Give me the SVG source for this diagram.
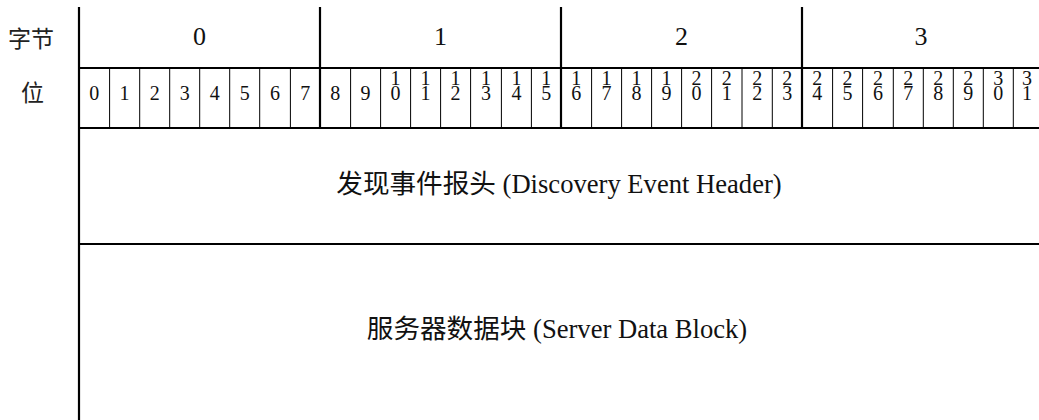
<svg xmlns="http://www.w3.org/2000/svg" width="1039" height="420" viewBox="0 0 1039 420">
  <style>
    .thick { stroke: #000; stroke-width: 2.2; fill: none; }
    .thin { stroke: #000; stroke-width: 1; fill: none; }
    .lbl { font-family: "Liberation Serif", "Noto Sans CJK SC", serif; fill: #111; }
    .cjk { font-family: "Noto Sans CJK SC", sans-serif; font-size: 23px; fill: #222; }
    .byte { font-size: 26px; text-anchor: middle; }
    .bit { font-size: 20px; text-anchor: middle; }
    .field { font-size: 26.6px; text-anchor: middle; }
  </style>

  <!-- row captions -->
  <g id="captions">
    <text class="cjk" x="8" y="47">字节</text>
    <text class="cjk" x="21" y="101">位</text>
  </g>

  <!-- grid lines -->
  <g id="grid">
    <line class="thick" x1="79" y1="7" x2="79" y2="420"/>
    <line class="thick" x1="320" y1="7" x2="320" y2="128"/>
    <line class="thick" x1="561" y1="7" x2="561" y2="128"/>
    <line class="thick" x1="802" y1="7" x2="802" y2="128"/>
    <line class="thick" x1="79" y1="68" x2="1039" y2="68"/>
    <line class="thick" x1="79" y1="128" x2="1039" y2="128"/>
    <line class="thick" x1="79" y1="244" x2="1039" y2="244"/>
    <!-- bit separators -->
    <g class="thin">
      <line x1="109.6" y1="68" x2="109.6" y2="128"/>
      <line x1="139.7" y1="68" x2="139.7" y2="128"/>
      <line x1="169.7" y1="68" x2="169.7" y2="128"/>
      <line x1="199.7" y1="68" x2="199.7" y2="128"/>
      <line x1="229.7" y1="68" x2="229.7" y2="128"/>
      <line x1="259.7" y1="68" x2="259.7" y2="128"/>
      <line x1="290.4" y1="68" x2="290.4" y2="128"/>
      <line x1="350.6" y1="68" x2="350.6" y2="128"/>
      <line x1="380.6" y1="68" x2="380.6" y2="128"/>
      <line x1="410.6" y1="68" x2="410.6" y2="128"/>
      <line x1="440.6" y1="68" x2="440.6" y2="128"/>
      <line x1="470.6" y1="68" x2="470.6" y2="128"/>
      <line x1="501.4" y1="68" x2="501.4" y2="128"/>
      <line x1="531.4" y1="68" x2="531.4" y2="128"/>
      <line x1="591.6" y1="68" x2="591.6" y2="128"/>
      <line x1="621.6" y1="68" x2="621.6" y2="128"/>
      <line x1="651.6" y1="68" x2="651.6" y2="128"/>
      <line x1="681.6" y1="68" x2="681.6" y2="128"/>
      <line x1="711.6" y1="68" x2="711.6" y2="128"/>
      <line x1="742" y1="68" x2="742" y2="128"/>
      <line x1="772.3" y1="68" x2="772.3" y2="128"/>
      <line x1="832.6" y1="68" x2="832.6" y2="128"/>
      <line x1="862.6" y1="68" x2="862.6" y2="128"/>
      <line x1="893.3" y1="68" x2="893.3" y2="128"/>
      <line x1="923.3" y1="68" x2="923.3" y2="128"/>
      <line x1="953.3" y1="68" x2="953.3" y2="128"/>
      <line x1="983.3" y1="68" x2="983.3" y2="128"/>
      <line x1="1013.3" y1="68" x2="1013.3" y2="128"/>
    </g>
  </g>

  <!-- byte numbers -->
  <g id="bytes" class="lbl byte">
    <text x="199.5" y="45">0</text>
    <text x="440.5" y="45">1</text>
    <text x="681.5" y="45">2</text>
    <text x="921" y="45">3</text>
  </g>

  <!-- bit numbers; two-digit values are stacked one digit per line -->
  <g id="bits" class="lbl bit">
    <text x="94.3" y="100">0</text>
    <text x="124.6" y="100">1</text>
    <text x="154.7" y="100">2</text>
    <text x="184.7" y="100">3</text>
    <text x="214.7" y="100">4</text>
    <text x="244.7" y="100">5</text>
    <text x="275" y="100">6</text>
    <text x="305.2" y="100">7</text>
    <text x="335.3" y="100">8</text>
    <text x="365.6" y="100">9</text>
    <text x="395.6" y="85">1<tspan x="395.6" dy="15">0</tspan></text>
    <text x="425.6" y="85">1<tspan x="425.6" dy="15">1</tspan></text>
    <text x="455.6" y="85">1<tspan x="455.6" dy="15">2</tspan></text>
    <text x="486" y="85">1<tspan x="486" dy="15">3</tspan></text>
    <text x="516.4" y="85">1<tspan x="516.4" dy="15">4</tspan></text>
    <text x="546.2" y="85">1<tspan x="546.2" dy="15">5</tspan></text>
    <text x="576.3" y="85">1<tspan x="576.3" dy="15">6</tspan></text>
    <text x="606.6" y="85">1<tspan x="606.6" dy="15">7</tspan></text>
    <text x="636.6" y="85">1<tspan x="636.6" dy="15">8</tspan></text>
    <text x="666.6" y="85">1<tspan x="666.6" dy="15">9</tspan></text>
    <text x="696.6" y="85">2<tspan x="696.6" dy="15">0</tspan></text>
    <text x="726.8" y="85">2<tspan x="726.8" dy="15">1</tspan></text>
    <text x="757.2" y="85">2<tspan x="757.2" dy="15">2</tspan></text>
    <text x="787.2" y="85">2<tspan x="787.2" dy="15">3</tspan></text>
    <text x="817.3" y="85">2<tspan x="817.3" dy="15">4</tspan></text>
    <text x="847.6" y="85">2<tspan x="847.6" dy="15">5</tspan></text>
    <text x="878" y="85">2<tspan x="878" dy="15">6</tspan></text>
    <text x="908.3" y="85">2<tspan x="908.3" dy="15">7</tspan></text>
    <text x="938.3" y="85">2<tspan x="938.3" dy="15">8</tspan></text>
    <text x="968.3" y="85">2<tspan x="968.3" dy="15">9</tspan></text>
    <text x="998.3" y="85">3<tspan x="998.3" dy="15">0</tspan></text>
    <text x="1027" y="85">3<tspan x="1027" dy="15">1</tspan></text>
  </g>

  <!-- payload fields -->
  <g id="header" class="lbl field">
    <text x="559" y="193">发现事件报头 (Discovery Event Header)</text>
  </g>
  <g id="data-block" class="lbl field">
    <text x="557" y="338">服务器数据块 (Server Data Block)</text>
  </g>
</svg>
